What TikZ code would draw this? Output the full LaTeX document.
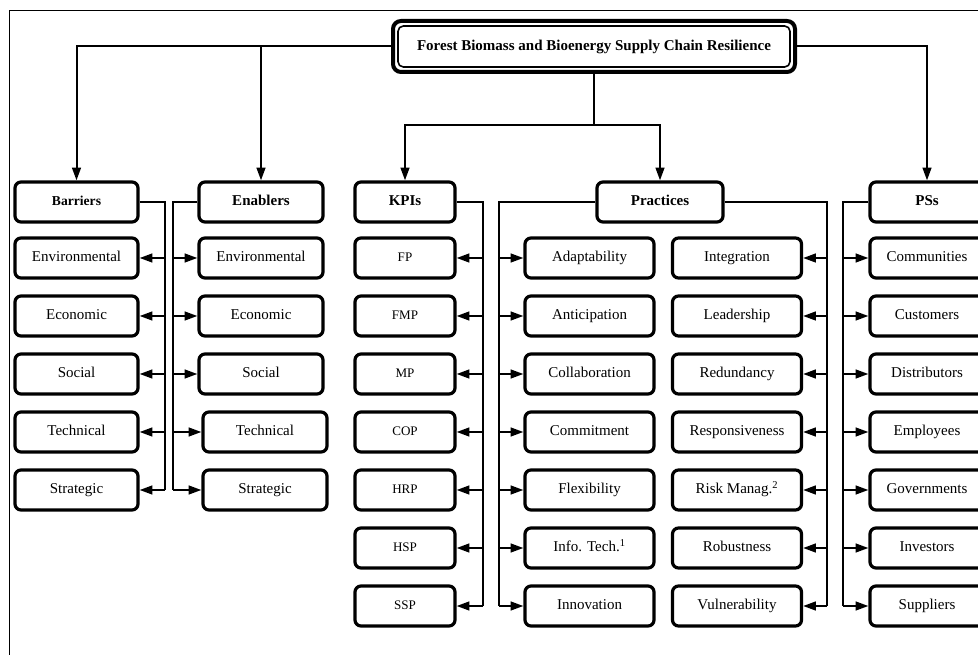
\documentclass[tikz,border=0pt]{standalone}
\usepackage{fontspec}
\setmainfont{Liberation Serif}
\usetikzlibrary{arrows.meta}
\begin{document}
\begin{tikzpicture}[x=0.75pt,y=-0.75pt,
  box/.style={draw, line width=2.4pt, rounded corners=4.5pt, minimum height=30pt, inner sep=0pt, fill=white, text height=7pt, text depth=1.6pt, font=\fontsize{11.25}{13}\selectfont},
  hdr/.style={box, font=\fontsize{11.25}{13}\selectfont\bfseries},
  kbox/.style={box, minimum width=75pt, font=\fontsize{9.8}{11}\selectfont},
  conn/.style={line width=1.5pt},
  arr/.style={conn, -{Triangle[length=9.5pt,width=6.5pt]}}]
\useasboundingbox (0,0) rectangle (978,655);
\clip (0,0) rectangle (978,655);
\draw[line width=1pt] (9.5,1000) -- (9.5,10.5) -- (1200,10.5);

% title
\node[box, minimum width=301.5pt, minimum height=38.25pt, line width=3pt, rounded corners=6pt,
      font=\fontsize{11.25}{13}\selectfont\bfseries] (title) at (594,46.5) {Forest Biomass and Bioenergy Supply Chain Resilience};
\draw[line width=1.2pt, rounded corners=4pt] ([shift={(7,-7)}]title.south west) rectangle ([shift={(-7,7)}]title.north east);

% headers
\node[hdr, minimum width=92.25pt, font=\fontsize{10.2}{12}\selectfont\bfseries] (bar) at (76.5,202) {Barriers};
\node[hdr, minimum width=93pt] (en) at (261,202) {Enablers};
\node[hdr, minimum width=75pt] (kpi) at (405,202) {KPIs};
\node[hdr, minimum width=94.5pt] (prac) at (660,202) {Practices};
\node[hdr, minimum width=85.5pt] (ps) at (927,202) {PSs};

% barriers
\foreach \i/\y/\t in {1/258/Environmental,2/316/Economic,3/374/Social,4/432/Technical,5/490/Strategic}
  \node[box, minimum width=92.25pt] (b\i) at (76.5,\y) {\t};
% enablers
\foreach \i/\x/\y/\t in {1/261/258/Environmental,2/261/316/Economic,3/261/374/Social,4/265/432/Technical,5/265/490/Strategic}
  \node[box, minimum width=93pt] (e\i) at (\x,\y) {\t};
% KPIs
\foreach \i/\y/\t in {1/258/FP,2/316/FMP,3/374/MP,4/432/COP,5/490/HRP,6/548/HSP,7/606/SSP}
  \node[kbox] (k\i) at (405,\y) {\t};
% practices left
\foreach \i/\y/\t in {1/258/Adaptability,2/316/Anticipation,3/374/Collaboration,4/432/Commitment,5/490/Flexibility,6/548/{Info. Tech.\textsuperscript{1}},7/606/Innovation}
  \node[box, minimum width=96.75pt] (pl\i) at (589.5,\y) {\t};
% practices right
\foreach \i/\y/\t in {1/258/Integration,2/316/Leadership,3/374/Redundancy,4/432/Responsiveness,5/490/{Risk Manag.\textsuperscript{2}},6/548/Robustness,7/606/Vulnerability}
  \node[box, minimum width=96.75pt] (pr\i) at (737,\y) {\t};
% PSs
\foreach \i/\y/\t in {1/258/Communities,2/316/Customers,3/374/Distributors,4/432/Employees,5/490/Governments,6/548/Investors,7/606/Suppliers}
  \node[box, minimum width=85.5pt] (s\i) at (927,\y) {\t};

% top connectors
\coordinate (split) at (594,125);
\draw[arr] (title.west) -| (bar.north);
\draw[arr] (title.west -| en.north) -- (en.north);
\draw[arr] (title.east) -| (ps.north);
\draw[conn] (title.south) -- (split);
\draw[arr] (split) -| (kpi.north);
\draw[arr] (split) -| (prac.north);

% buses
\coordinate (busB) at (165,490);
\coordinate (busE) at (173,490);
\coordinate (busK) at (483,606);
\coordinate (busPL) at (499,606);
\coordinate (busPR) at (827,606);
\coordinate (busS) at (843,606);
\draw[conn] (bar.east) -| (busB);
\draw[conn] (en.west) -| (busE);
\draw[conn] (kpi.east) -| (busK);
\draw[conn] (prac.west) -| (busPL);
\draw[conn] (prac.east) -| (busPR);
\draw[conn] (ps.west) -| (busS);
\foreach \i in {1,...,5} {
  \draw[arr] (busB |- b\i) -- (b\i.east);
  \draw[arr] (busE |- e\i) -- (e\i.west);
}
\foreach \i in {1,...,7} {
  \draw[arr] (busK |- k\i) -- (k\i.east);
  \draw[arr] (busPL |- pl\i) -- (pl\i.west);
  \draw[arr] (busPR |- pr\i) -- (pr\i.east);
  \draw[arr] (busS |- s\i) -- (s\i.west);
}
\end{tikzpicture}
\end{document}
